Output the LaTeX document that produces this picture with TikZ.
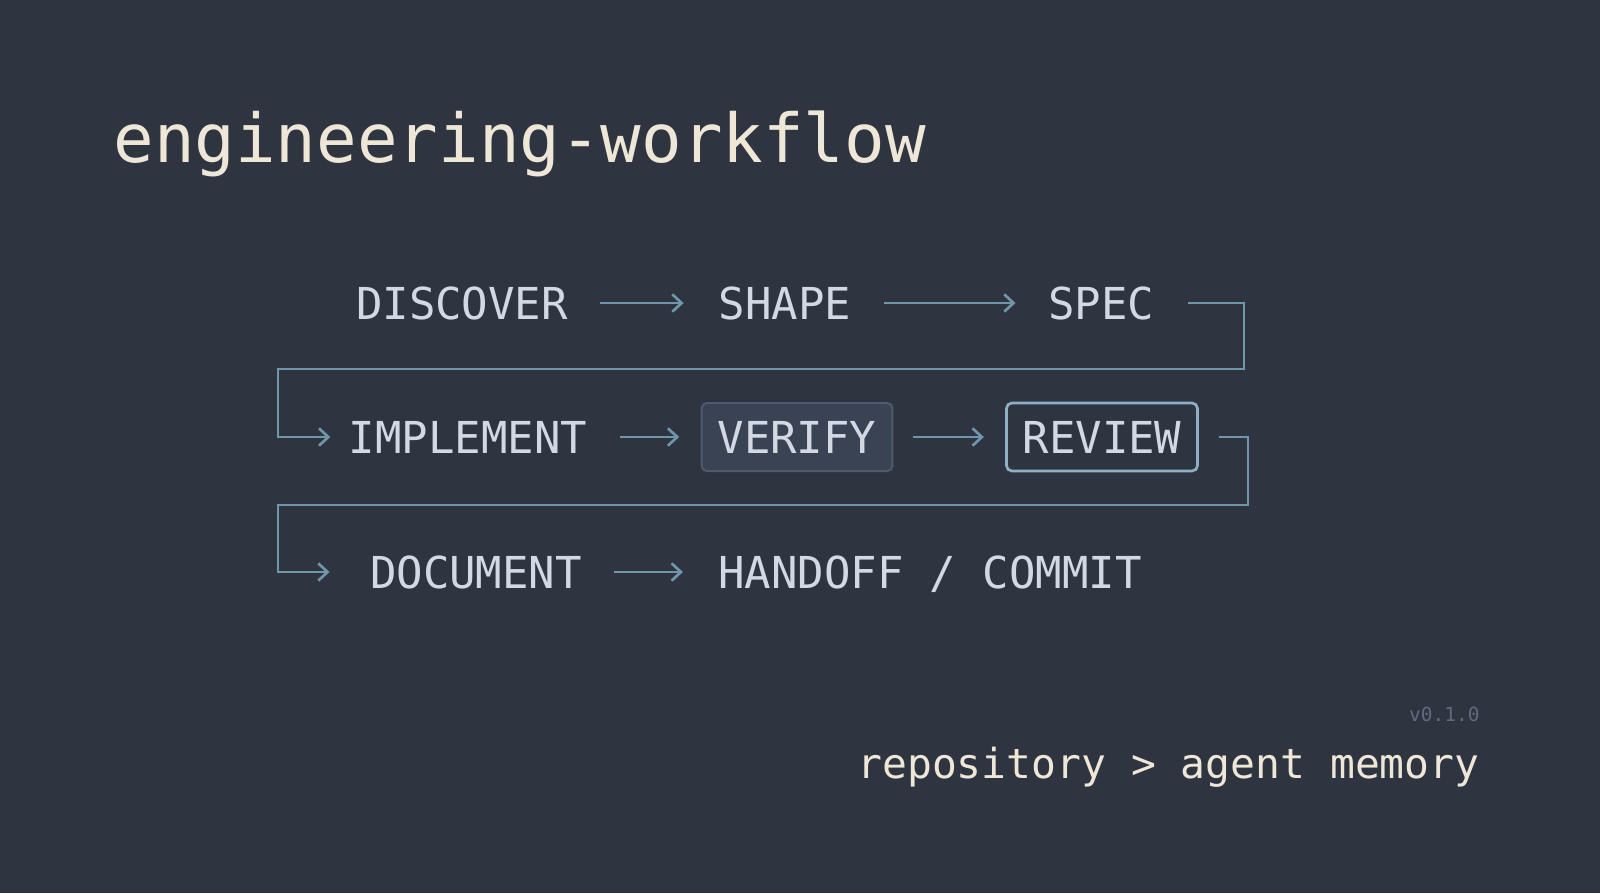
\documentclass[tikz,border=0pt]{standalone}
\usepackage{fontspec}
\setmonofont{DejaVu Sans Mono}
\usetikzlibrary{arrows.meta,positioning}
\definecolor{bgdark}{HTML}{2E3440}
\definecolor{cream}{HTML}{EEE6D6}
\definecolor{steptext}{HTML}{D3D9E2}
\definecolor{flowline}{HTML}{7096AC}
\definecolor{verifyfill}{HTML}{394353}
\definecolor{verifyedge}{HTML}{4E5A6D}
\definecolor{reviewedge}{HTML}{8FB0C4}
\definecolor{vertext}{HTML}{606C7E}
\tikzset{
  every picture/.style={line width=0.75pt},
  phase/.style={text=steptext, font=\ttfamily\fontsize{33}{33}\selectfont, inner xsep=0pt, inner ysep=0pt, text height=24pt, text depth=0pt},
  phasebox/.style={phase, inner xsep=12pt, inner ysep=13.5pt, rounded corners=4pt},
  flow/.style={draw=flowline, line width=2pt, -{Straight Barb[length=7pt,width=13pt,line width=2pt]}, shorten <=24pt, shorten >=26pt},
  elbow/.style={draw=flowline, line width=2pt, -{Straight Barb[length=7pt,width=13pt,line width=2pt]}}
}
\begin{document}
\begin{tikzpicture}[x=0.75pt,y=0.75pt,yscale=-1,xscale=1]
    \fill[bgdark] (0,0) rectangle (1600,893);
    \useasboundingbox (0,0) rectangle (1600,893);

    % Title
    \node (title) [anchor=base west, inner sep=0pt, text=cream, font=\ttfamily\fontsize{50.6}{50.6}\selectfont] at (113,162) {engineering-workflow};

    % Row 1
    \node (discover) [phase] at (462,303) {DISCOVER};
    \node (shape) [phase] at (785,303) {SHAPE};
    \node (spec) [phase] at (1101,303) {SPEC};

    % Row 2
    \node (implement) [phase] at (468,437) {IMPLEMENT};
    \node (verify) [phasebox, fill=verifyfill, draw=verifyedge, line width=1.5pt] at (797,437) {VERIFY};
    \node (review) [phasebox, draw=reviewedge, line width=2pt] at (1102,437) {REVIEW};

    % Row 3
    \node (document) [phase] at (476,572) {DOCUMENT};
    \node (handoff) [phase] at (930,572) {HANDOFF / COMMIT};

    % Bends
    \coordinate (bendA) at (1244,369);
    \coordinate (bendB) at (278,369);
    \coordinate (bendC) at (1248,505);
    \coordinate (bendD) at (278,505);

    % Arrows
    \draw [flow] (discover) -- (shape);
    \draw [flow, shorten >=24pt] (shape) -- (spec);
    \draw [elbow, shorten <=25pt, shorten >=13.5pt] (spec.east) -| (bendA) -- (bendB) |- (implement.west);
    \draw [flow, shorten >=16pt] (implement) -- (verify);
    \draw [flow, shorten <=15pt, shorten >=16pt] (verify) -- (review);
    \draw [elbow, shorten <=15pt, shorten >=30pt] (review.east) -| (bendC) -- (bendD) |- (document.west);
    \draw [flow] (document) -- (handoff);

    % Footer
    \node (version) [anchor=base east, inner sep=0pt, text=vertext, font=\ttfamily\fontsize{14.6}{14.6}\selectfont] at (1480,721) {v0.1.0};
    \node (tagline) [anchor=base east, inner sep=0pt, text=cream, font=\ttfamily\fontsize{31}{31}\selectfont] at (1480,778) {repository > agent memory};
\end{tikzpicture}
\end{document}
